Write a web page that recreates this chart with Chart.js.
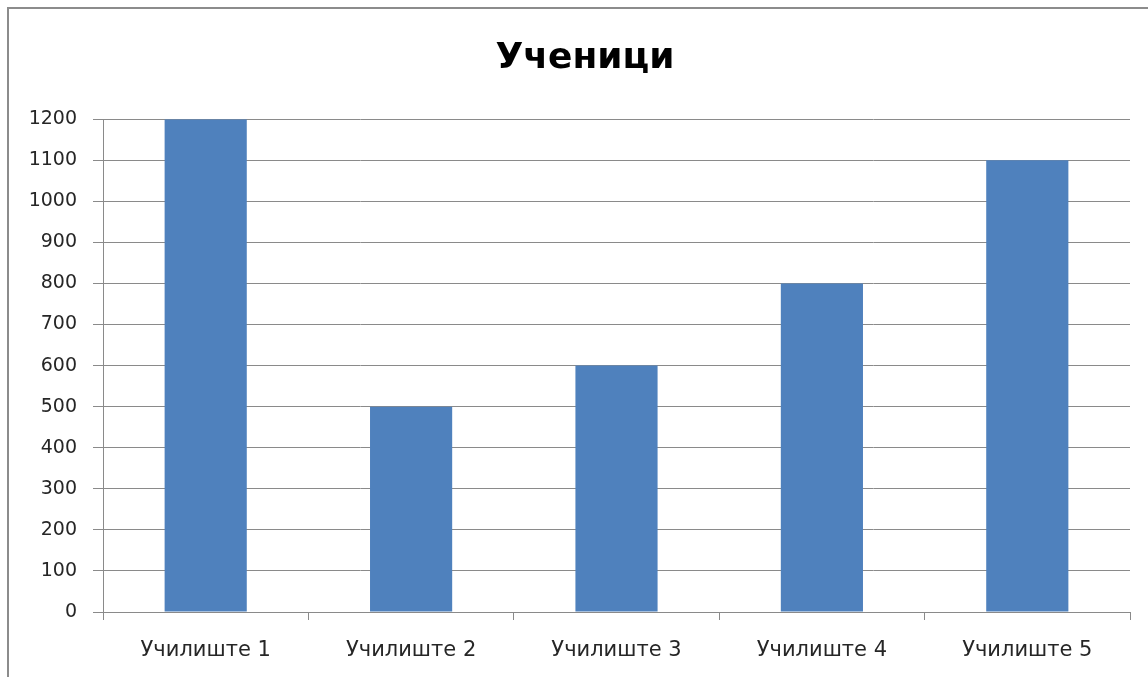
<!DOCTYPE html>
<html>
<head>
<meta charset="utf-8">
<script src="https://cdn.jsdelivr.net/npm/chart.js@4.4.1/dist/chart.umd.min.js"></script>
<style>
  html, body { margin: 0; padding: 0; background: #fff; }
  #wrap { position: relative; width: 1148px; height: 677px; overflow: hidden; }
  #frame { position: absolute; left: 7px; top: 7px; right: -10px; bottom: -10px;
           border-left: 2px solid #8c8c8c; border-top: 2px solid #8c8c8c; }
  canvas { position: absolute; left: 0; top: 0; }
</style>
</head>
<body>
<div id="wrap">
  <div id="frame"></div>
  <canvas id="c" width="1148" height="677"></canvas>
</div>
<script>
const chartTitle = "Ученици";
const categories = ["Училиште 1", "Училиште 2", "Училиште 3", "Училиште 4", "Училиште 5"];
const studentCounts = [1200, 500, 600, 800, 1100];
const yMin = 0, yMax = 1200, yStep = 100;

const gridColor = "#8a8a8a";
const textColor = "#262626";

new Chart(document.getElementById("c"), {
  type: "bar",
  data: {
    labels: categories,
    datasets: [{
      label: chartTitle,
      data: studentCounts,
      backgroundColor: "#4f81bd",
      borderWidth: 0,
      barPercentage: 0.4,
      categoryPercentage: 1.0
    }]
  },
  options: {
    responsive: false,
    animation: false,
    layout: { padding: { left: 40, right: 18, top: 0, bottom: 0 } },
    plugins: {
      legend: { display: false },
      tooltip: { enabled: false },
      title: {
        display: true,
        text: chartTitle,
        color: "#000",
        font: { family: "DejaVu Sans", size: 36, weight: "bold" },
        padding: { top: 37, bottom: 39 }
      }
    },
    scales: {
      x: {
        offset: true,
        grid: { offset: true, drawOnChartArea: false, drawTicks: true, tickLength: 8, color: gridColor },
        border: { display: true, color: gridColor, width: 1 },
        ticks: { color: textColor, padding: 18, font: { family: "DejaVu Sans", size: 21 } },
        afterFit: (s) => { s.height = 65; }
      },
      y: {
        min: yMin, max: yMax,
        grid: { color: gridColor, tickLength: 10, drawTicks: true },
        border: { display: true, color: gridColor, width: 1 },
        ticks: { stepSize: yStep, color: textColor, padding: 16,
                 font: { family: "DejaVu Sans", size: 19 },
                 callback: (v) => String(v) },
        afterFit: (s) => { s.width = 63; s._computeLabelArea = () => undefined; }
      }
    }
  }
});
</script>
</body>
</html>
